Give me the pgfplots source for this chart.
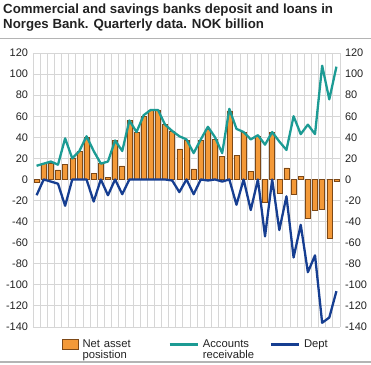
\documentclass[border=0pt]{standalone}
\usepackage{fontspec}
\setmainfont{Liberation Sans}
\usepackage{pgfplots}
\usepackage{pgfplotstable}
\pgfplotsset{compat=1.18}
\definecolor{barfill}{RGB}{243,153,56}
\definecolor{baredge}{RGB}{125,72,22}
\definecolor{recv}{RGB}{28,155,148}
\definecolor{dept}{RGB}{22,62,145}
\definecolor{gridc}{RGB}{214,214,214}
\definecolor{rulec}{RGB}{180,180,180}
\definecolor{txt}{RGB}{34,34,34}

\pgfplotstableread{
x net recv dept
1 -3 13 -15
2 15 15 0
3 15 17 -2
4 9 14 -4
5 14 39 -25
6 20 20 0
7 27 27 0
8 40 41 0
9 6 27 -21
10 15 15 0
11 2 17 -15
12 37 37 0
13 13 27 -14
14 56 56 0
15 45 45 0
16 60 61 0
17 66 66 0
18 66 66 0
19 52 52 0
20 46 46 -1
21 29 41 -12
22 37 38 0
23 10 25 -14
24 37 38 0
25 48 50 -1
26 38 40 0
27 22 25 -2
28 65 67 0
29 23 48 -24
30 45 45 0
31 8 38 -29
32 41 42 0
33 -22 33 -54
34 45 45 0
35 -13 36 -48
36 11 28 -16
37 -14 60 -74
38 3 43 -43
39 -37 52 -88
40 -29 43 -72
41 -28 108 -136
42 -56 76 -131
43 -2 107 -106
}\data

\begin{document}
\begin{tikzpicture}[x=1bp,y=1bp]
\path[use as bounding box] (0,0) rectangle (371,365);
\node[anchor=base west, inner sep=0, text=txt, font=\bfseries\fontsize{13.3}{15}\selectfont] at (3,351.5) {Commercial and savings banks deposit and loans in};
\node[anchor=base west, inner sep=0, text=txt, font=\bfseries\fontsize{13.3}{15}\selectfont] at (3,336.2) {Norges Bank. Quarterly data. NOK billion};
\draw[rulec, line width=2] (0,326.5) -- (371,326.5);
\draw[rulec, line width=2.5] (0,2.8) -- (371,2.8);

\begin{axis}[
  at={(33bp,38bp)}, anchor=south west, scale only axis,
  width=307bp, height=274bp,
  xmin=0.5, xmax=43.5, ymin=-140, ymax=120,
  ytick={-140,-120,...,120},
  xtick={0.5,1.5,...,43.5}, xticklabels={},
  grid=major, major grid style={gridc, line width=0.9},
  axis line style={draw=none},
  major tick length=0pt,
  yticklabel pos=left,
  yticklabel style={font=\fontsize{11}{13}\selectfont, text=txt, xshift=-1.5bp},
  /pgf/number format/assume math mode=true,
  clip=false,
  legend style={at={(0.0945,-0.045)}, anchor=north west, draw=none, fill=none,
    inner sep=0pt, outer sep=0pt, legend columns=3,
    nodes={inner sep=0pt, font=\fontsize{11.3}{10.5}\selectfont, align=left, text=txt},
    /tikz/every odd column/.append style={column sep=4bp}},
  legend cell align=left,
]
\addplot[ybar, bar width=5bp, fill=barfill, draw=baredge, line width=0.5,
  legend image code/.code={\draw[fill=barfill, draw=baredge, line width=0.5] (0bp,-5bp) rectangle (16bp,5bp);}]
  table[x=x, y=net]{\data};
\addlegendentry[text width=86bp]{Net asset\\posistion}
\addplot[recv, line width=2.3, line join=round, no markers,
  legend image code/.code={\draw[recv, line width=2.3] (0bp,0bp) -- (28bp,0bp);}]
  table[x=x, y=recv]{\data};
\addlegendentry[text width=67bp]{Accounts\\receivable}
\addplot[dept, line width=2.3, line join=round, no markers,
  legend image code/.code={\draw[dept, line width=2.3] (0bp,0bp) -- (28bp,0bp);}]
  table[x=x, y=dept]{\data};
\addlegendentry{Dept}
\end{axis}

\begin{axis}[
  at={(33bp,38bp)}, anchor=south west, scale only axis,
  width=307bp, height=274bp,
  xmin=0.5, xmax=43.5, ymin=-140, ymax=120,
  ytick={-140,-120,...,120},
  xtick=\empty,
  axis line style={draw=none},
  major tick length=0pt,
  yticklabel pos=right,
  yticklabel style={font=\fontsize{11}{13}\selectfont, text=txt, xshift=1.5bp},
  /pgf/number format/assume math mode=true,
]
\addplot[draw=none] coordinates {(1,0)};
\end{axis}
\end{tikzpicture}
\end{document}
